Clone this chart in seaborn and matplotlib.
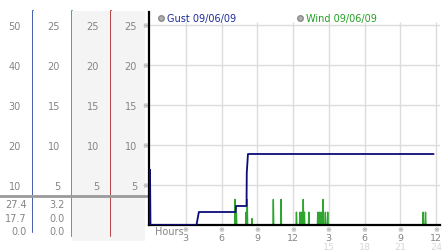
import matplotlib
matplotlib.use("Agg")
import matplotlib.pyplot as plt
from matplotlib.lines import Line2D
import seaborn as sns
import pandas as pd

# ---------------- data ----------------
gust_hours = [0.0, 0.0, 0.04, 3.9, 4.1, 7.2, 7.22, 8.1, 8.12, 8.22, 23.8]
gust_mph = [0.0, 13.8, 0.0, 0.0, 3.25, 3.25, 4.75, 4.75, 13.0, 17.75, 17.75]

wind_spike_hours = [7.14, 7.25, 8.06, 8.16, 8.56, 10.35, 11.0, 12.29, 12.58,
                    12.72, 12.86, 12.96, 13.33, 14.08, 14.22, 14.36, 14.53,
                    14.72, 14.92, 22.92, 23.12]
wind_spike_mph = [3.2, 1.6, 1.6, 3.2, 0.8, 3.2, 3.2, 1.6, 1.6,
                  1.6, 3.2, 1.6, 1.6, 1.6, 1.6, 1.6, 3.2,
                  1.6, 1.6, 1.6, 1.6]
wind_start, wind_end = 3.9, 24.0

hour_ticks = [3, 6, 9, 12, 15, 18, 21, 24]
hour_labels = ["3", "6", "9", "12", "3", "6", "9", "12"]
hour_labels2 = ["", "", "", "", "15", "18", "21", "24"]

gust_scale_ticks = [10, 20, 30, 40, 50]
wind_scale_ticks = [5, 10, 15, 20, 25]
gust_stats = ["27.4", "17.7", "0.0"]
wind_stats = ["3.2", "0.0", "0.0"]

gust_label = "Gust 09/06/09"
wind_label = "Wind 09/06/09"

# build wind polyline (zero baseline with spikes)
half_w = 0.035
wx, wy = [wind_start], [0.0]
for h, v in zip(wind_spike_hours, wind_spike_mph):
    wx += [h - half_w, h, h + half_w]
    wy += [0.0, v, 0.0]
wx.append(wind_end)
wy.append(0.0)
wind_df = pd.DataFrame({"hour": wx, "mph": wy})
gust_df = pd.DataFrame({"hour": gust_hours, "mph": gust_mph})

# ---------------- figure ----------------
sns.set_style("white")
plt.rcParams["font.family"] = ["DejaVu Sans"]
W, H = 442, 253
fig = plt.figure(figsize=(W / 100, H / 100), dpi=100)
fig.patch.set_facecolor("white")


def rect(x0, y0, x1, y1):
    return [x0 / W, 1 - y1 / H, (x1 - x0) / W, (y1 - y0) / H]


TICK_GRAY = "#858585"
MARK_GRAY = "#8c8c8c"
GRID = "#dcdcdc"
NAVY = "#0c0c78"
GREEN = "#2ea52e"

PX_PER_H = 286 / 24  # 0 h at x=150, 24 h at x=436
ax = fig.add_axes(rect(149, 13, 440, 226))
ax.set_xlim(-1 / PX_PER_H, 290 / PX_PER_H)
ax.set_ylim(0, 53.25)
ax.set_yticks(gust_scale_ticks)
ax.set_yticklabels(["※"] * len(gust_scale_ticks), fontsize=5, color=MARK_GRAY)
ax.set_xticks(hour_ticks)
ax.set_xticklabels(["※"] * len(hour_ticks), fontsize=5, color=MARK_GRAY)
ax.tick_params(axis="both", length=0)
ax.tick_params(axis="y", pad=0.8)
ax.tick_params(axis="x", pad=1.0)
ax.grid(True, axis="y", color=GRID, linewidth=1)
ax.vlines(hour_ticks, 0, 50.75, color=GRID, linewidth=1, zorder=0.5)
for s in ["top", "right"]:
    ax.spines[s].set_visible(False)
ax.spines["left"].set_color("black")
ax.spines["left"].set_linewidth(1.6)
ax.spines["bottom"].set_color("black")
ax.spines["bottom"].set_linewidth(1.6)

ax2 = ax.twinx()
ax2.set_ylim(0, 53.25 / 2)
ax2.set_yticks([])
for s in ax2.spines.values():
    s.set_visible(False)

sns.lineplot(data=wind_df, x="hour", y="mph", ax=ax2, color=GREEN,
             linewidth=1, estimator=None, sort=False, legend=False)
sns.lineplot(data=gust_df, x="hour", y="mph", ax=ax, color=NAVY,
             linewidth=1.3, estimator=None, sort=False, legend=False, zorder=4)
for a in (ax, ax2):
    a.set_xlabel("")
    a.set_ylabel("")
ax.set_zorder(1)
ax2.set_zorder(0)
ax.patch.set_visible(False)
ax2.patch.set_visible(True)
ax2.patch.set_facecolor("white")
ax2.set_yticks([])

# x tick number rows
sec = ax.secondary_xaxis("bottom")
sec.set_xticks(hour_ticks)
sec.set_xticklabels(hour_labels, fontsize=6.8, color=TICK_GRAY)
sec.tick_params(length=0, pad=6.0)
sec.spines["bottom"].set_visible(False)
sec2 = ax.secondary_xaxis("bottom")
sec2.set_xticks(hour_ticks)
sec2.set_xticklabels(hour_labels2, fontsize=6.8, color="#d8d8d8")
sec2.tick_params(length=0, pad=12.4)
sec2.spines["bottom"].set_visible(False)

ax.text(6 / 291, -6 / 213, "Hours", transform=ax.transAxes, fontsize=7,
        color=TICK_GRAY, ha="left", va="center")


# legends
def legend_at(xfrac, label, color):
    h = Line2D([], [], marker="o", linestyle="", markersize=4,
               markerfacecolor="#b0b0b0", markeredgecolor="#8a8a8a")
    lg = ax.legend([h], [label], loc="upper left",
                   bbox_to_anchor=(xfrac, 1.0), frameon=False, fontsize=7,
                   handlelength=0.6, handletextpad=0.25, borderpad=0,
                   borderaxespad=0.15)
    lg.get_texts()[0].set_color(color)
    return lg


ax.add_artist(legend_at(8 / 291, gust_label, "#1c2a9a"))
legend_at(147 / 291, wind_label, "#22a022")

# ---------------- left scale panel ----------------
TOP, BOT, ZERO = 12, 242, 226
cols = [
    dict(x0=0, x1=33, ticks=gust_scale_ticks, ppu=4, bg="white", line="#2244a0",
         line_bot=233, pad_px=21, stats=gust_stats, stat_x=27),
    dict(x0=33, x1=72, ticks=wind_scale_ticks, ppu=8, bg="white", line="#2ea52e",
         line_bot=237, pad_px=27, stats=wind_stats, stat_x=65),
    dict(x0=72, x1=111, ticks=wind_scale_ticks, ppu=8, bg="#f4f4f4", line="#b02424",
         line_bot=237, pad_px=27, stats=None, stat_x=None),
    dict(x0=111, x1=145, ticks=wind_scale_ticks, ppu=8, bg="#f4f4f4", line=None,
         line_bot=None, pad_px=26, stats=None, stat_x=None),
]
stat_rows = [205, 219, 232]
sep_y = 197
for c in cols:
    cax = fig.add_axes(rect(c["x0"], TOP, c["x1"], BOT))
    cax.set_facecolor(c["bg"])
    cax.set_xlim(0, 1)
    cax.set_ylim(-(BOT - ZERO) / c["ppu"], (ZERO - TOP) / c["ppu"])
    cax.set_xticks([])
    cax.set_yticks(c["ticks"])
    cax.set_yticklabels([str(t) for t in c["ticks"]], fontsize=7, color=TICK_GRAY)
    cax.tick_params(axis="y", length=0, pad=-c["pad_px"] * 0.72)
    for s in cax.spines.values():
        s.set_visible(False)
    if c["line"]:
        sp = cax.spines["right"]
        sp.set_visible(True)
        sp.set_color(c["line"])
        sp.set_linewidth(1.2)
        sp.set_bounds(-(c["line_bot"] - ZERO) / c["ppu"], (ZERO - TOP) / c["ppu"])
    fy = (BOT - sep_y) / (BOT - TOP)
    cax.plot([0, 1.12], [fy, fy], transform=cax.transAxes, color="#9a9a9a",
             linewidth=2, clip_on=False, zorder=5)
    if c["stats"]:
        fx = (c["stat_x"] - c["x0"]) / (c["x1"] - c["x0"])
        for r, s in zip(stat_rows, c["stats"]):
            cax.text(fx, (BOT - r) / (BOT - TOP), s, transform=cax.transAxes,
                     fontsize=7, color=TICK_GRAY, ha="right", va="center")

fig.savefig("out.png", dpi=100, facecolor="white")
